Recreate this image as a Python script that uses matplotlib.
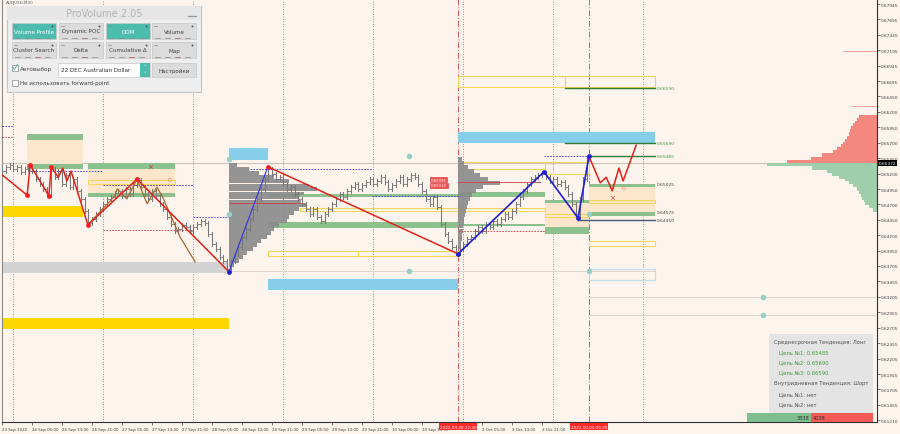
# ProVolume screen: AUDUSD hourly bars with zones, zigzags and volume profiles
import matplotlib
matplotlib.use('Agg')
import matplotlib.pyplot as plt
import matplotlib.transforms as mtransforms
from matplotlib.patches import Rectangle

plt.rcParams['font.family'] = 'DejaVu Sans'

BG = '#fdf4ee'

# ---- data -------------------------------------------------------------
# x = trading hours since 23 Sep 21:00 (weekend removed), y = price

tick_hours = [0, 8, 16, 24, 32, 40, 48, 56, 64, 72, 80, 88, 96, 104, 112, 128, 136, 144]
tick_labels = ['23 Sep 2022', '26 Sep 05:00', '26 Sep 13:00', '26 Sep 21:00', '27 Sep 05:00',
               '27 Sep 13:00', '27 Sep 21:00', '28 Sep 05:00', '28 Sep 13:00', '28 Sep 21:00',
               '29 Sep 05:00', '29 Sep 13:00', '29 Sep 21:00', '30 Sep 05:00', '30 Sep 13:00',
               '3 Oct 05:00', '3 Oct 13:00', '3 Oct 21:00']
day_lines = [3, 27, 51, 75, 99, 123, 147, 171]
marker_times = [121.6, 156.5]
marker_labels = ['2022.09.30 22:30', '2022.10.04 09:30']

price_ticks = [0.67945, 0.67695, 0.67445, 0.67195, 0.66945, 0.66695, 0.66450, 0.66200,
               0.65950, 0.65700, 0.65450, 0.65200, 0.64950, 0.64700, 0.64450, 0.64200,
               0.63950, 0.63705, 0.63455, 0.63205, 0.62955, 0.62705, 0.62455, 0.62205,
               0.61955, 0.61705, 0.61455, 0.61210]
last_price = 0.65372

closes = [0.6524, 0.6531, 0.6534, 0.6527, 0.6531, 0.6523, 0.6527, 0.6532,
          0.6524, 0.6511, 0.6503, 0.6495, 0.6485,
          0.6527,
          0.6514, 0.6524, 0.6503, 0.6518, 0.6498, 0.6511, 0.6492,
          0.6479, 0.6459, 0.6440,
          0.6446, 0.6455, 0.6463, 0.6471, 0.6479, 0.6482, 0.6488,
          0.6492, 0.6484, 0.6495, 0.6487, 0.6501, 0.6510,
          0.6498, 0.6487, 0.6479, 0.6492, 0.6485, 0.6471,
          0.6463, 0.6450, 0.6438, 0.6427, 0.6430, 0.6437,
          0.6434, 0.6427, 0.6434, 0.6438, 0.6443, 0.6440,
          0.6422, 0.6406, 0.6398, 0.6385, 0.6378, 0.6366,
          0.6378, 0.6390, 0.6401, 0.6417, 0.6430, 0.6446, 0.6463, 0.6479, 0.6495, 0.6511, 0.6527,
          0.6519, 0.6511, 0.6514, 0.6503, 0.6495, 0.6498, 0.6487, 0.6479,
          0.6471, 0.6463, 0.6455, 0.6463, 0.6450, 0.6443, 0.6455,
          0.6463, 0.6471, 0.6479, 0.6487, 0.6482, 0.6492, 0.6498, 0.6503, 0.6495, 0.6501, 0.6506, 0.6511,
          0.6503, 0.6508, 0.6514, 0.6506, 0.6495, 0.6501, 0.6508, 0.6514, 0.6503, 0.6511, 0.6518, 0.6514,
          0.6503, 0.6492, 0.6479, 0.6471, 0.6482, 0.6466,
          0.6438, 0.6422, 0.6411, 0.6401, 0.6391,
          0.6398, 0.6406, 0.6414, 0.6417, 0.6427, 0.6434, 0.6427, 0.6438, 0.6434, 0.6443, 0.6438,
          0.6446, 0.6455, 0.6450, 0.6459, 0.6471, 0.6482, 0.6492, 0.6503, 0.6511, 0.6514, 0.6518, 0.6521,
          0.6514, 0.6508, 0.6511, 0.6503, 0.6506, 0.6498, 0.6487, 0.6471, 0.6455,
          0.6479, 0.6511, 0.6544]

# zigzags (time, price)
red_zz_t = [0, 6.7, 7.5, 12.5, 13.1, 15.0, 16.2, 17.3, 18.4, 22.9, 36.0, 60.5]
red_zz_p = [0.6518, 0.6485, 0.6534, 0.6484, 0.6531, 0.6514, 0.6529, 0.6508, 0.6524, 0.6437, 0.6511, 0.6361]
red_dots_t = [6.7, 7.5, 12.5, 13.1, 22.9, 36.0, 70.9]
red_dots_p = [0.6485, 0.6534, 0.6484, 0.6531, 0.6437, 0.6511, 0.6531]
red_zz2_t = [70.9, 121.6]
red_zz2_p = [0.6531, 0.6390]
blue_zz_t = [60.5, 70.9]
blue_zz_p = [0.6361, 0.6531]
blue_zz2_t = [121.6, 144.5, 153.6, 156.5]
blue_zz2_p = [0.6390, 0.6523, 0.6448, 0.6548]
blue_dots_t = [60.5, 121.6, 144.5, 153.6, 156.5]
blue_dots_p = [0.6361, 0.6390, 0.6523, 0.6448, 0.6548]
brown_zz_t = [22.9, 30.1, 30.7, 33.3, 36.0, 38.7, 41.3, 42.9, 47.5, 51.5]
brown_zz_p = [0.6437, 0.6484, 0.6495, 0.6479, 0.6511, 0.6471, 0.6498, 0.6481, 0.6417, 0.6377]
forecast_t = [156.5, 159.5, 161.1, 162.7, 164.5, 165.6, 169.1]
forecast_p = [0.6548, 0.6505, 0.6514, 0.6492, 0.6529, 0.6508, 0.6566]

# zones: (start, end, low, high)
green_bands = [(6.7, 21.6, 0.6575, 0.6584), (6.7, 21.6, 0.6527, 0.6536),
               (22.9, 46.1, 0.6527, 0.6537), (22.9, 46.1, 0.6482, 0.6488),
               (70.9, 121.6, 0.6482, 0.6487), (70.9, 121.6, 0.6432, 0.6441),
               (121.6, 144.8, 0.6482, 0.6490), (121.6, 144.8, 0.6435, 0.6438),
               (144.8, 156.5, 0.6472, 0.6477), (144.8, 156.5, 0.6422, 0.6434),
               (156.5, 174.1, 0.6498, 0.65025), (156.5, 174.1, 0.6451, 0.64575)]
peach_fills = [(6.7, 21.6, 0.6536, 0.6575), (22.9, 46.1, 0.6488, 0.6527),
               (144.8, 156.5, 0.6434, 0.6472), (156.5, 174.1, 0.64575, 0.6498)]
gold_bands = [(0, 21.6, 0.6450, 0.6467), (0, 60.5, 0.6268, 0.6286)]
grey_bands = [(0, 60.3, 0.6359, 0.6377)]
sky_bands = [(60.5, 70.9, 0.6542, 0.6561), (70.9, 121.6, 0.6331, 0.6349),
             (121.6, 174.1, 0.6569, 0.6587)]
yellow_boxes = [(22.9, 46.1, 0.6503, 0.6510), (70.9, 95.0, 0.6387, 0.6395),
                (95.0, 121.6, 0.6387, 0.6395), (79.5, 144.8, 0.6459, 0.6464),
                (121.6, 144.8, 0.6527, 0.6539), (144.8, 156.5, 0.6519, 0.6539),
                (144.8, 156.5, 0.6450, 0.6455), (121.6, 150.1, 0.6660, 0.6678),
                (150.1, 174.1, 0.6660, 0.6678), (156.5, 174.1, 0.6473, 0.6477),
                (156.5, 174.1, 0.6403, 0.6411)]
pale_blue_boxes = [(156.5, 174.1, 0.6348, 0.6366)]

# target levels shown on the right of the forecast
target_levels = [0.66590, 0.65690, 0.65485]
target_starts = [150.1, 150.1, 156.5]
zone_levels = [0.65025, 0.64575, 0.64450]

# dashed reference levels (start, end, price)
blue_dashed = [(0, 2.9, 0.6597), (7.5, 26.9, 0.6524), (26.9, 50.9, 0.6501),
               (50.9, 60.5, 0.6450), (66.0, 98.7, 0.6527), (98.7, 122.0, 0.6484),
               (144.5, 156.5, 0.65485)]
red_dashed = [(0, 2.9, 0.6579), (26.9, 50.9, 0.6428), (121.6, 144.8, 0.6427)]

teal_t = [60.5, 60.5, 108.5, 108.5, 156.5, 156.5, 202.9, 202.9]
teal_p = [0.6544, 0.6455, 0.6548, 0.6362, 0.6455, 0.6362, 0.6320, 0.6291]

# volume profile near the 28 Sep low (anchor 60.5 h)
vp1_price = [0.6534, 0.6527, 0.6521, 0.6514, 0.6508, 0.6501, 0.6495, 0.6488, 0.6482,
             0.6475, 0.6469, 0.6463, 0.6456, 0.6450, 0.6443, 0.6437, 0.6430, 0.6424,
             0.6417, 0.6411, 0.6404, 0.6398, 0.6391, 0.6385, 0.6378, 0.6372]
vp1_len = [2.1, 5.3, 8.0, 12.0, 16.0, 21.3, 23.5, 20.0, 18.7, 19.2, 20.8, 18.7, 17.3,
           16.0, 15.5, 13.3, 12.0, 11.2, 10.1, 8.5, 7.5, 6.4, 4.8, 3.7, 2.7, 1.3]
# volume profile of 30 Sep 22:30 (anchor 121.6 h)
vp2_price = [0.6544, 0.6537, 0.6531, 0.6524, 0.6518, 0.6511, 0.6505, 0.6498, 0.6492,
             0.6485, 0.6479, 0.6472, 0.6466, 0.6459, 0.6453, 0.6446, 0.6440, 0.6434,
             0.6427, 0.6421, 0.6414, 0.6408, 0.6401]
vp2_len = [1.1, 1.6, 2.7, 4.3, 5.9, 8.0, 11.2, 6.7, 4.8, 3.7, 3.2, 2.7, 2.4, 2.1, 1.9,
           1.6, 1.6, 1.3, 1.3, 1.1, 1.1, 0.8, 0.8]
# market depth on the right edge
dom_ask_price = [0.6613, 0.6608, 0.6603, 0.6599, 0.6594, 0.6589, 0.6584, 0.6579,
                 0.6574, 0.6569, 0.6565, 0.6560, 0.6555, 0.6550, 0.6545, 0.6540]
dom_ask_len = [4.8, 5.3, 5.9, 6.4, 6.9, 7.2, 7.5, 8.0, 8.5, 9.1, 9.6, 10.7, 11.7, 14.7, 17.6, 24.0]
dom_bid_price = [0.6534, 0.6529, 0.6524, 0.6519, 0.6514, 0.6510, 0.6505, 0.6500,
                 0.6495, 0.6490, 0.6485, 0.6480, 0.6476, 0.6471, 0.6466, 0.6461]
dom_bid_len = [29.3, 17.3, 13.3, 12.0, 10.1, 8.5, 7.5, 6.4, 5.3, 4.8, 4.3, 4.0, 3.5, 3.2, 2.1, 1.1]
dom_thin_price = [0.6746, 0.6718, 0.6670, 0.6629]
dom_thin_len = [2.0, 9.0, 9.0, 7.0]

buy_volume = 3838
sell_volume = 4038

# ---- figure -----------------------------------------------------------
fig = plt.figure(figsize=(9, 4.35), dpi=100, facecolor=BG)
ax = fig.add_axes([2 / 900, 12 / 435, 875 / 900, 423 / 435])
ax.set_facecolor(BG)
XMAX = 233.3
ax.set_xlim(0, XMAX)
ax.set_ylim(0.61178, 0.68026)


def rects(items, **kw):
    for t0, t1, lo, hi in items:
        ax.add_patch(Rectangle((t0, lo), t1 - t0, hi - lo, **kw))


rects(peach_fills, facecolor='#fde6cc', edgecolor='none', zorder=1)
rects(gold_bands, facecolor='#ffd700', edgecolor='none', zorder=1)
rects(grey_bands, facecolor='#d3d3d3', edgecolor='none', zorder=1)
rects(sky_bands, facecolor='#87ceeb', edgecolor='none', zorder=1)
rects(green_bands, facecolor='#8cc08c', edgecolor='none', zorder=1.5)
rects(yellow_boxes, facecolor='none', edgecolor='#f2d75a', lw=0.8, zorder=1.6)
rects(pale_blue_boxes, facecolor='none', edgecolor='#bfe0e6', lw=0.9, zorder=1.6)

# day separators and marker lines
for d in day_lines:
    ax.axvline(d, color='#8a8a8a', ls=(0, (1.2, 1.8)), lw=0.6, zorder=0.5)
for t in marker_times:
    ax.axvline(t, color='#e05a5a', ls=(0, (6, 2, 1, 2)), lw=0.7, zorder=0.6)

# current price and faint levels
ax.axhline(last_price, color='#c9c2bd', lw=0.8, zorder=0.7)
ax.plot([60.5, 174.1], [0.6362, 0.6362], color='#ddd6d0', lw=0.7, zorder=0.7)
ax.plot([156.5, XMAX], [0.6320, 0.6320], color='#ddd6d0', lw=0.7, zorder=0.7)
ax.plot([156.5, XMAX], [0.6291, 0.6291], color='#ddd6d0', lw=0.7, zorder=0.7)

# volume profiles
ax.barh(vp1_price, vp1_len, height=0.00058, left=60.5, color='#8a8a8a', alpha=0.9, zorder=2)
ax.barh(vp2_price, vp2_len, height=0.00058, left=121.6, color='#8a8a8a', alpha=0.9, zorder=2)
ax.plot([60.5, 79.5], [0.6472, 0.6472], color='#d04040', lw=0.6, zorder=2.1)
ax.plot([121.6, 143.5], [0.6506, 0.6506], color='#d04040', lw=0.6, zorder=2.1)
dom_ask_left = [XMAX - v for v in dom_ask_len]
dom_bid_left = [XMAX - v for v in dom_bid_len]
ax.barh(dom_ask_price, dom_ask_len, height=0.0005, left=dom_ask_left, color='#f4877e', zorder=2)
ax.barh(dom_bid_price, dom_bid_len, height=0.0005, left=dom_bid_left, color='#9fcfaa', zorder=2)
thin_left = [XMAX - v for v in dom_thin_len]
ax.barh(dom_thin_price, dom_thin_len, height=0.00012, left=thin_left, color='#f4a39c', zorder=2)

# bars
for i, c in enumerate(closes):
    o = closes[i - 1] if i > 0 else c
    hi = max(o, c) + 0.0003
    lo = min(o, c) - 0.0003
    ax.plot([i, i], [lo, hi], color='#777777', lw=0.75, zorder=3)
    ax.plot([i - 0.4, i], [o, o], color='#777777', lw=0.6, zorder=3)
    ax.plot([i, i + 0.4], [c, c], color='#777777', lw=0.6, zorder=3)

# dashed reference levels
for t0, t1, p in blue_dashed:
    ax.plot([t0, t1], [p, p], color='#3a3ad0', ls=(0, (2, 1.5)), lw=0.6, zorder=3.2)
for t0, t1, p in red_dashed:
    ax.plot([t0, t1], [p, p], color='#d04040', ls=(0, (2, 1.5)), lw=0.6, zorder=3.2)

# target levels
for start, lvl in zip(target_starts, target_levels):
    ax.plot([start, 174.1], [lvl, lvl], color='#2e7d32', lw=1.0, zorder=3.3)
    ax.text(174.6, lvl, f'{lvl:.5f}', fontsize=3.2, color='#3c9a3c', va='center', zorder=5)
for lvl in zone_levels:
    ax.text(174.6, lvl, f'{lvl:.5f}', fontsize=3.2, color='#404040', va='center', zorder=5)
ax.plot([153.6, 174.1], [0.64450, 0.64450], color='#4a5878', lw=1.0, zorder=3.3)

# zigzags
ax.plot(brown_zz_t, brown_zz_p, color='#a86a30', lw=0.9, zorder=4)
ax.plot(red_zz_t, red_zz_p, color='#e2231a', lw=1.1, zorder=4.1)
ax.plot(red_zz2_t, red_zz2_p, color='#e2231a', lw=1.1, zorder=4.1)
ax.plot(blue_zz_t, blue_zz_p, color='#3b3bd6', lw=0.9, zorder=4.1)
ax.plot(blue_zz2_t, blue_zz2_p, color='#1f1fd0', lw=1.2, zorder=4.1)
ax.plot(forecast_t, forecast_p, color='#e2231a', lw=1.1, zorder=4.1)
ax.scatter(red_dots_t, red_dots_p, s=12, color='#ff1a1a', zorder=4.5, linewidths=0)
ax.scatter(blue_dots_t, blue_dots_p, s=12, color='#2020d0', zorder=4.5, linewidths=0)
ax.scatter(teal_t, teal_p, s=16, color='#95cfc6', zorder=4.4, linewidths=0)
ax.text(39.5, 0.6532, '×', color='#d03030', fontsize=5, ha='center', va='center', zorder=5)
ax.text(162.7, 0.6482, '×', color='#d03030', fontsize=5, ha='center', va='center', zorder=5)
ax.text(44.8, 0.6510, '0', color='#f08060', fontsize=4.5, ha='center', va='center', zorder=5)
ax.text(165.6, 0.6498, '0', color='#f08060', fontsize=4.5, ha='center', va='center', zorder=5)

# little red price flags inside the chart
for p, lab in zip([0.6510, 0.6501], ['0.65095', '0.65010']):
    ax.text(116.5, p, lab, fontsize=2.8, color='white', ha='center', va='center', zorder=5,
            bbox=dict(boxstyle='square,pad=0.15', fc='#f05050', ec='#d03030', lw=0.4))

# axes styling
ax.yaxis.tick_right()
ax.set_yticks(price_ticks)
ax.set_yticklabels([f'{p:.5f}' for p in price_ticks])
ax.tick_params(axis='y', labelsize=3.1, length=2, width=0.5, pad=1, colors='#404040')
ax.set_xticks(tick_hours)
ax.set_xticklabels(tick_labels)
ax.tick_params(axis='x', labelsize=2.9, length=2, width=0.5, pad=1.5, colors='#404040')
for lab in ax.get_xticklabels():
    lab.set_ha('left')
ax.spines['top'].set_visible(False)
ax.spines['left'].set_color('#8a8a8a')
ax.spines['right'].set_color('#303030')
ax.spines['bottom'].set_color('#303030')
for s in ['left', 'right', 'bottom']:
    ax.spines[s].set_linewidth(0.8)

trans_x = mtransforms.blended_transform_factory(ax.transData, ax.transAxes)
for t, lab in zip(marker_times, marker_labels):
    ax.text(t, -0.006, lab, transform=trans_x, fontsize=3.0, color='white', ha='center',
            va='top', zorder=6, clip_on=False,
            bbox=dict(boxstyle='square,pad=0.25', fc='#ff2a2a', ec='none'))
trans_y = mtransforms.blended_transform_factory(ax.transAxes, ax.transData)
ax.text(1.002, last_price, f'{last_price:.5f}', transform=trans_y, fontsize=3.1, color='white',
        ha='left', va='center', zorder=6, clip_on=False,
        bbox=dict(boxstyle='square,pad=0.15', fc='black', ec='none'))

# ---- overlay in screen pixels for the panel widgets --------------------
ov = fig.add_axes([0, 0, 1, 1])
ov.set_xlim(0, 900)
ov.set_ylim(435, 0)
ov.axis('off')
ov.patch.set_alpha(0)

ov.text(6, 3.5, 'AUDUSD,M30', fontsize=3, color='#606060', va='center')

ov.add_patch(Rectangle((7, 7), 194, 86, fc='#eeeeee', ec='#c4c4c4', lw=0.8))
ov.add_patch(Rectangle((7, 7), 194, 14, fc='#e6e6e6', ec='none'))
ov.text(104, 14, 'ProVolume 2.05', fontsize=7, color='#b4b4b4', ha='center', va='center')
ov.plot([188, 196], [17, 17], color='#9a9a9a', lw=0.9)

buttons_row1 = ['Volume Profile', 'Dynamic POC', 'DOM', 'Volume']
buttons_row2 = ['Cluster Search', 'Delta', 'Cumulative Δ', 'Map']
active = ['Volume Profile', 'DOM']
bx = [12, 59, 106, 152]
for row, y0 in [(buttons_row1, 24), (buttons_row2, 43)]:
    for x0, name in zip(bx, row):
        on = name in active
        ov.add_patch(Rectangle((x0, y0), 44, 16, fc='#4cbcae' if on else '#dcdcdc',
                               ec='#c8c8c8', lw=0.5))
        ov.text(x0 + 22, y0 + 8, name, fontsize=4.1, color='white' if on else '#404040',
                ha='center', va='center')
        ov.scatter([x0 + 40], [y0 + 2.5], s=2, color='#555555', linewidths=0)
        ov.plot([x0 + 2, x0 + 5], [y0 + 2.5, y0 + 2.5], color='#8a8a8a', lw=0.5)
        for k in range(4):
            ov.plot([x0 + 3 + 10 * k, x0 + 8 + 10 * k], [y0 + 14.5, y0 + 14.5],
                    color='#b05050' if (k == 2 and not on) else '#8a8a8a', lw=0.5)

ov.add_patch(Rectangle((12, 66), 5.5, 5.5, fc='white', ec='#8a8a8a', lw=0.5))
ov.plot([13, 14.5, 17.5], [68.5, 70.5, 65.5], color='#3aa8a0', lw=0.6)
ov.text(20, 69.5, 'Автовыбор', fontsize=4.1, color='#404040', va='center')
ov.add_patch(Rectangle((58, 64), 92, 14, fc='white', ec='#c8c8c8', lw=0.5))
ov.add_patch(Rectangle((140, 64), 10, 14, fc='#4cbcae', ec='none'))
ov.text(61, 71, '22 DEC Australian Dollar', fontsize=4.1, color='#303030', va='center')
ov.text(145, 68, '˄', fontsize=3.5, color='white', ha='center', va='center')
ov.text(145, 74.5, '˅', fontsize=3.5, color='white', ha='center', va='center')
ov.add_patch(Rectangle((152, 64), 44, 14, fc='#dcdcdc', ec='#c8c8c8', lw=0.5))
ov.text(174, 71, 'Настройки', fontsize=4.1, color='#404040', ha='center', va='center')
ov.add_patch(Rectangle((12, 81), 5.5, 5.5, fc='white', ec='#8a8a8a', lw=0.5))
ov.text(20, 84, 'Не использовать forward-point', fontsize=4.1, color='#404040', va='center')

# trend info box
ov.add_patch(Rectangle((769, 335), 104, 79, fc='#e4e4e4', ec='none'))
info_lines = ['Среднесрочная Тенденция: Лонг', 'Цель №1: 0.65485', 'Цель №2: 0.65690',
              'Цель №3: 0.66590', 'Внутридневная Тенденция: Шорт', 'Цель №1: нет', 'Цель №2: нет']
info_y = [343, 353, 363, 373, 384, 395, 405]
for txt, y in zip(info_lines, info_y):
    heading = 'Тенденция' in txt
    green = txt.startswith('Цель') and y < 380
    ov.text(774 if heading else 779, y, txt, fontsize=3.8,
            color='#3c9a3c' if green else '#505050', va='center')

# buy / sell volume bar
ov.add_patch(Rectangle((747, 414), 64, 9, fc='#7dbf8e', ec='none'))
ov.add_patch(Rectangle((811, 414), 62, 9, fc='#f25a55', ec='none'))
ov.text(809, 418.5, str(buy_volume), fontsize=3.6, color='#303030', ha='right', va='center')
ov.text(813, 418.5, str(sell_volume), fontsize=3.6, color='#303030', ha='left', va='center')

fig.savefig('out.png', dpi=100, facecolor=BG)
